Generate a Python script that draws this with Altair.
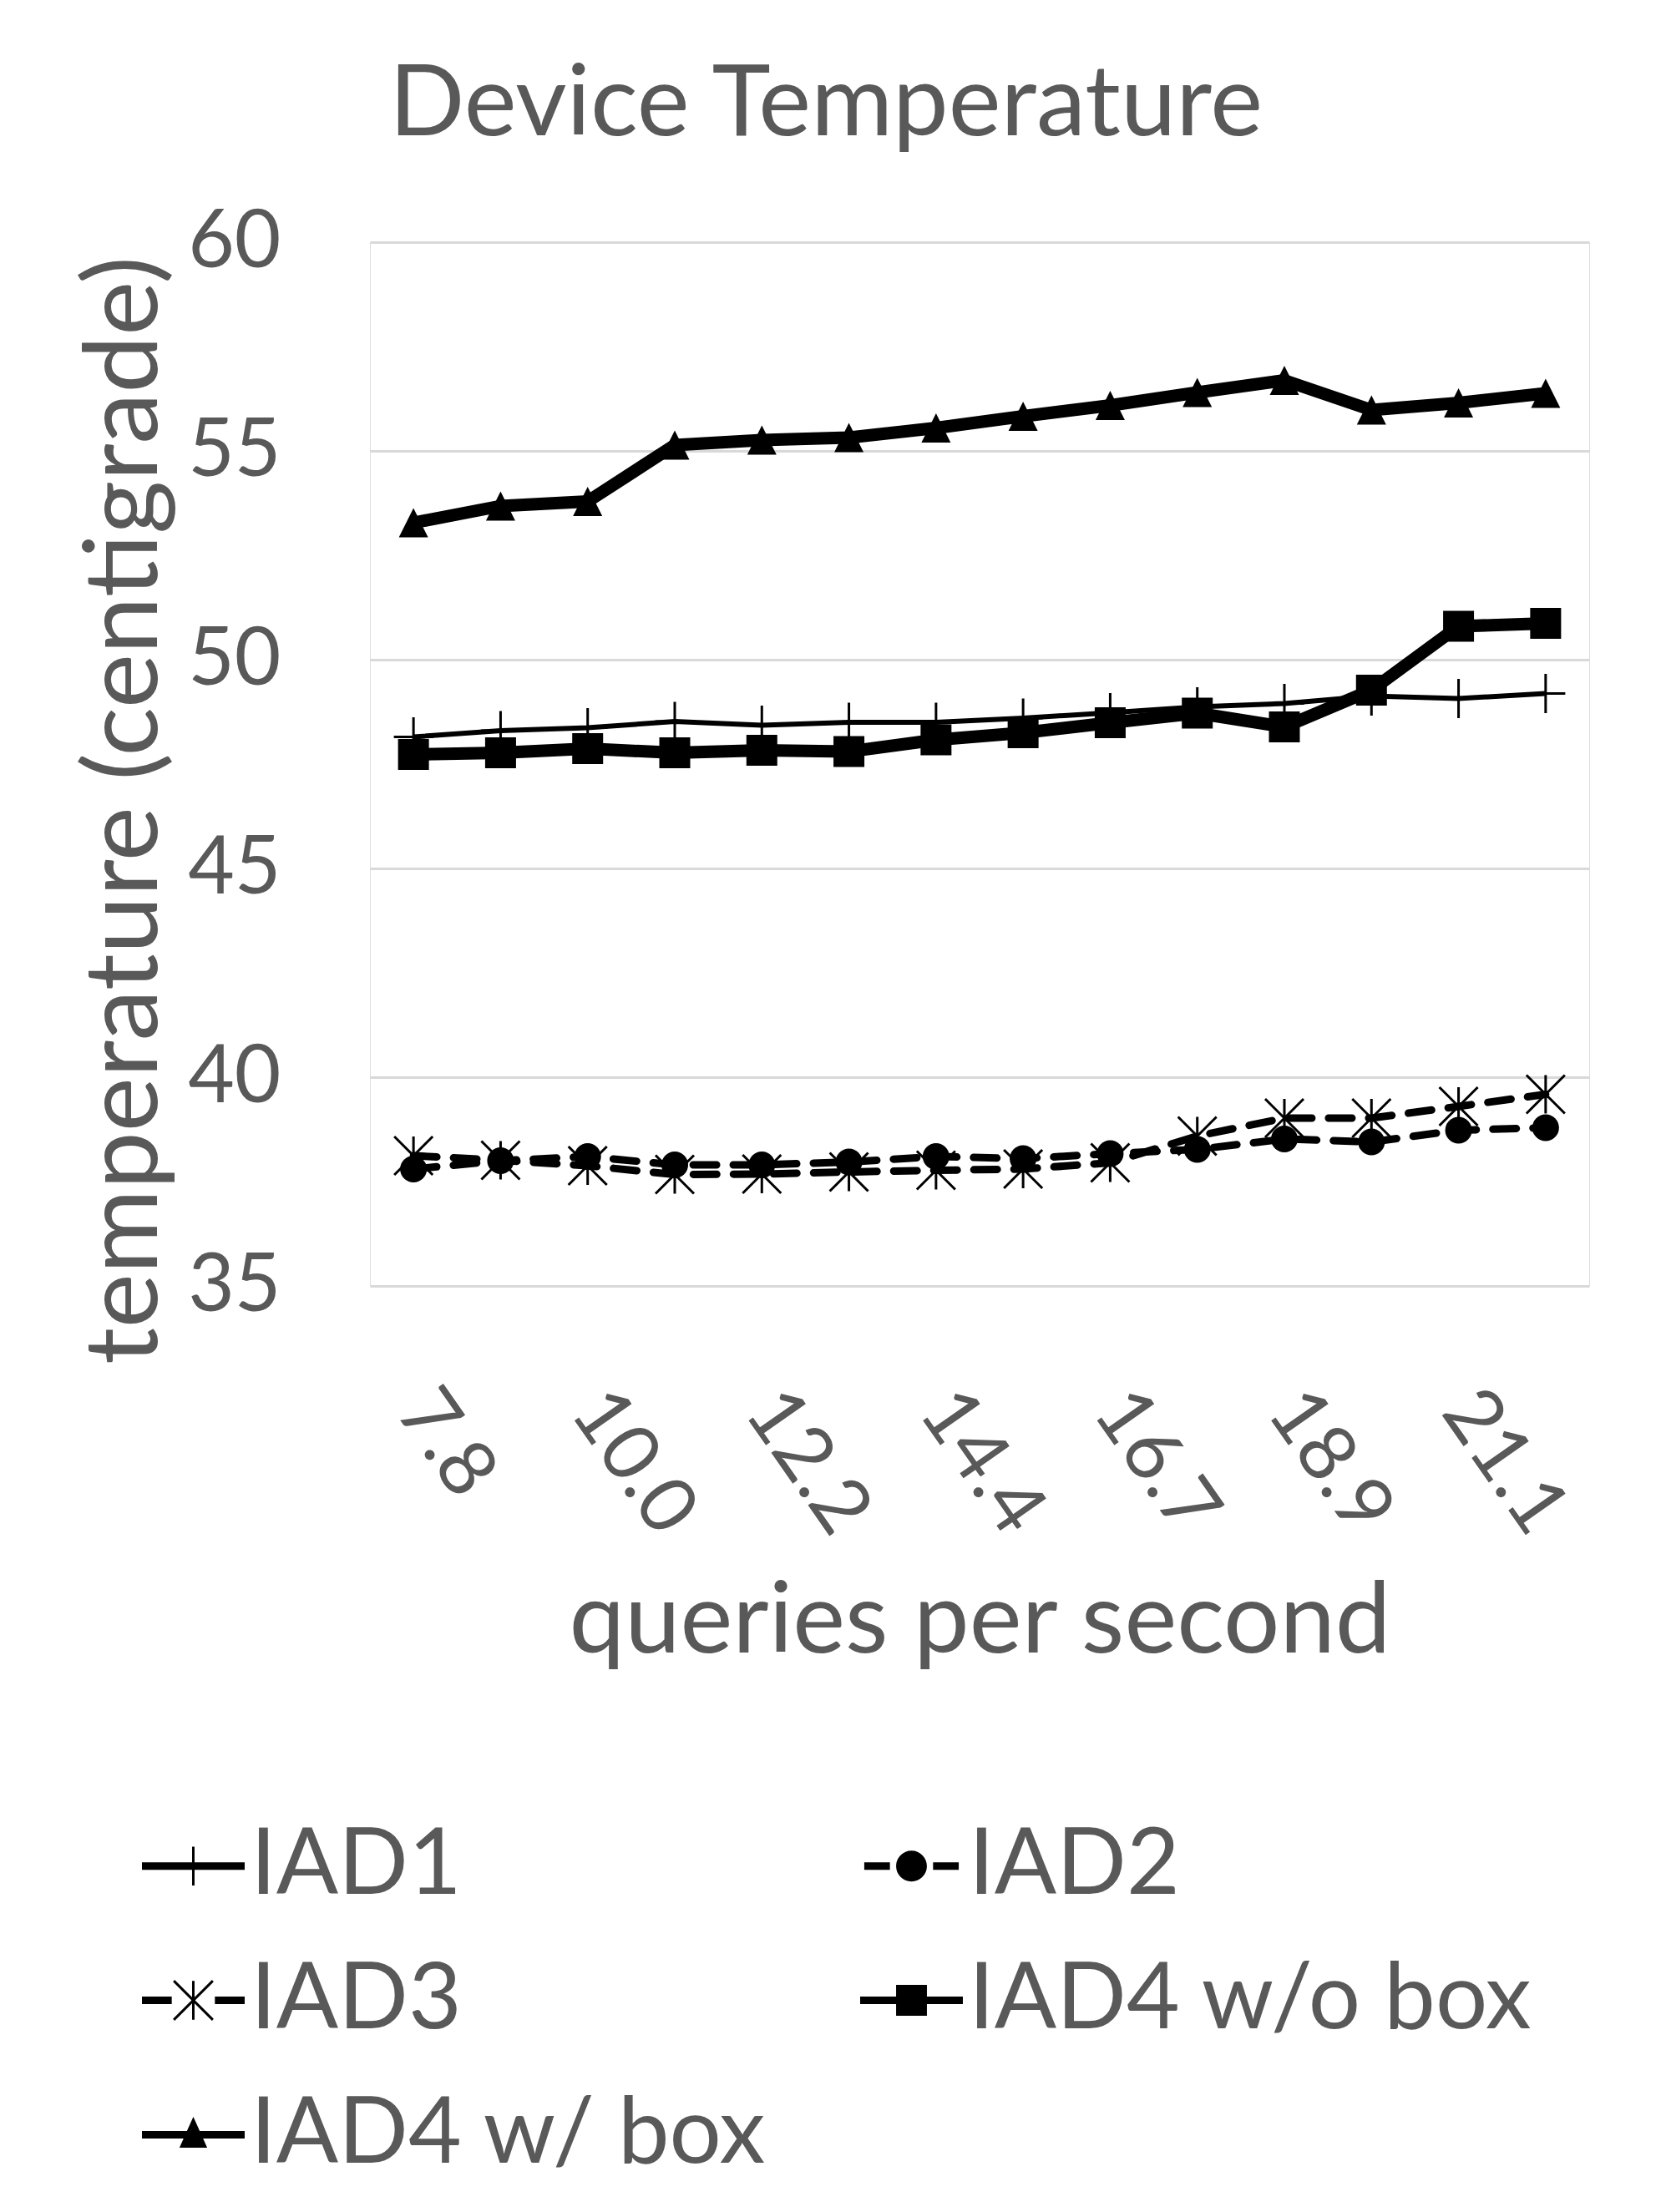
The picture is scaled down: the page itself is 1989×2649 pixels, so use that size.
import altair as alt
import pandas as pd
import math

# ---------------- data ----------------
qps = ["7.8", "8.9", "10.0", "11.1", "12.2", "13.3", "14.4",
       "15.6", "16.7", "17.8", "18.9", "20.0", "21.1", "22.2"]
labeled_qps = ["7.8", "10.0", "12.2", "14.4", "16.7", "18.9", "21.1"]
series = ["IAD1", "IAD2", "IAD3", "IAD4 w/o box", "IAD4 w/ box"]

iad1 = [48.15, 48.30, 48.37, 48.52, 48.43, 48.50, 48.50,
        48.60, 48.73, 48.87, 48.95, 49.13, 49.07, 49.19]
iad2 = [37.80, 38.00, 38.10, 37.90, 37.90, 37.97, 38.10,
        38.05, 38.17, 38.27, 38.52, 38.45, 38.73, 38.79]
iad3 = [38.12, 38.01, 37.88, 37.67, 37.68, 37.73, 37.77,
        37.80, 37.95, 38.59, 39.02, 39.02, 39.30, 39.59]
iad4_nobox = [47.73, 47.77, 47.87, 47.77, 47.83, 47.80, 48.08,
              48.25, 48.49, 48.72, 48.39, 49.27, 50.80, 50.87]
iad4_box = [53.28, 53.68, 53.79, 55.14, 55.26, 55.32, 55.55,
            55.83, 56.09, 56.40, 56.69, 55.98, 56.15, 56.38]

y_ticks = [35, 40, 45, 50, 55, 60]

rows = []
for s, vals in zip(series, [iad1, iad2, iad3, iad4_nobox, iad4_box]):
    for q, v in zip(qps, vals):
        rows.append({"qps": q, "series": s, "temp": v})
df = pd.DataFrame(rows)

# ---------------- styling helpers ----------------
TXT = "#595959"
FONT = "Lato"


def rect(x0, y0, x1, y1):
    return f"M{x0:.3f},{y0:.3f}L{x1:.3f},{y0:.3f}L{x1:.3f},{y1:.3f}L{x0:.3f},{y1:.3f}Z"


def seg(x0, y0, x1, y1, w):
    dx, dy = x1 - x0, y1 - y0
    L = math.hypot(dx, dy)
    nx, ny = -dy / L * w, dx / L * w
    pts = [(x0 + nx, y0 + ny), (x1 + nx, y1 + ny), (x1 - nx, y1 - ny), (x0 - nx, y0 - ny)]
    area = sum(pts[i][0] * pts[(i + 1) % 4][1] - pts[(i + 1) % 4][0] * pts[i][1] for i in range(4))
    if area < 0:
        pts = pts[::-1]
    return "M" + "L".join(f"{px:.3f},{py:.3f}" for px, py in pts) + "Z"


def circ(r):
    return f"M{-r},0A{r},{r},0,1,1,{r},0A{r},{r},0,1,1,{-r},0Z"


h = 0.073   # legend line half thickness (unit coords)
w = 0.024   # thin marker stroke half width
legend_paths = [
    rect(-1, -h, 1, h) + rect(-w, -0.38, w, 0.38),
    rect(-0.92, -h, -0.42, h) + circ(0.30) + rect(0.42, -h, 0.92, h),
    rect(-1, -h, -0.42, h) + seg(0, -0.38, 0, 0.38, w) + seg(-0.38, -0.38, 0.38, 0.38, w)
    + seg(-0.38, 0.38, 0.38, -0.38, w) + rect(0.42, -h, 1, h),
    rect(-1, -h, 1, h) + rect(-0.3, -0.3, 0.3, 0.3),
    rect(-1, -h, 1, h) + "M0,-0.35L0.27,0.25L-0.27,0.25Z",
]

PLUS = "M-1,0L1,0M0,-1L0,1"
ASTER = "M0,-1L0,1M-1,-1L1,1M-1,1L1,-1"

line_styles = {
    "IAD1": dict(strokeWidth=6),
    "IAD2": dict(strokeWidth=9, strokeDash=[28, 20], strokeCap="round"),
    "IAD3": dict(strokeWidth=9, strokeDash=[28, 20], strokeCap="round"),
    "IAD4 w/o box": dict(strokeWidth=15, strokeJoin="round"),
    "IAD4 w/ box": dict(strokeWidth=15, strokeJoin="round"),
}
point_styles = {
    "IAD1": dict(shape=PLUS, filled=False, size=2209, strokeWidth=3),
    "IAD2": dict(shape="circle", filled=True, size=1024),
    "IAD3": dict(shape=ASTER, filled=False, size=2116, strokeWidth=3),
    "IAD4 w/o box": dict(shape="square", filled=True, size=1369),
    "IAD4 w/ box": dict(shape="M0,-1L1,1L-1,1Z", filled=True, size=1225),
}

# ---------------- encodings ----------------
x_enc = alt.X(
    "qps:O", sort=qps,
    scale=alt.Scale(type="point", padding=0.5),
    axis=alt.Axis(
        values=labeled_qps, labelAngle=55, labelAlign="left", labelBaseline="middle",
        labelPadding=135, labelFont=FONT, labelFontSize=94, labelColor=TXT,
        labelOverlap=False, labelBound=False, labelLimit=1000,
        ticks=False, domain=False, grid=False,
        title="queries per second", titleFont=FONT, titleFontSize=119,
        titleFontWeight="normal", titleColor=TXT, titleAlign="center",
        titleBaseline="alphabetic", titleX=730, titleY=438,
    ),
)
y_enc = alt.Y(
    "temp:Q",
    scale=alt.Scale(domain=[35, 60], nice=False, zero=False),
    axis=alt.Axis(
        values=y_ticks, grid=True, gridColor="#d9d9d9", gridWidth=3,
        domain=False, ticks=False, labelFont=FONT, labelFontSize=96,
        labelColor=TXT, labelPadding=107, labelFlush=False,
        title="temperature (centigrade)", titleFont=FONT, titleFontSize=123,
        titleFontWeight="normal", titleColor=TXT, titleAngle=-90,
        titleAlign="center", titleBaseline="middle", titleX=-293, titleY=680,
    ),
)

base = alt.Chart(df).encode(x=x_enc, y=y_enc)

layers = []
for s in series:
    sub = base.transform_filter(alt.datum.series == s)
    layers.append(sub.mark_line(color="black", **line_styles[s]))
    layers.append(sub.mark_point(color="black", opacity=1, **point_styles[s]))

legend_layer = base.transform_filter("false").mark_point(
    filled=True, color="black", opacity=1
).encode(
    shape=alt.Shape(
        "series:N",
        scale=alt.Scale(domain=series, range=legend_paths),
        legend=alt.Legend(
            title=None, orient="none", legendX=-273, legendY=1883, columns=2,
            direction="horizontal",
            labelFont=FONT, labelFontSize=110, labelColor=TXT, labelLimit=3000,
            symbolSize=15129, symbolStrokeWidth=0, symbolFillColor="black",
            labelOffset=7, rowPadding=44, columnPadding=111, padding=0,
            symbolOffset=0,
        ),
    )
)
layers.append(legend_layer)

chart = alt.layer(*layers).properties(
    width=1460, height=1250,
    padding={"left": 435, "top": 282, "right": 78, "bottom": 1101},
    autosize=alt.AutoSizeParams(type="none"),
    title=alt.TitleParams(
        "Device Temperature", font=FONT, fontSize=119, fontWeight="normal",
        color=TXT, anchor="middle", frame="group", dx=-184, dy=169, offset=130,
        baseline="alphabetic",
    ),
).configure_view(stroke=None).configure(background="white")

chart.save("out.html", embed_options={"renderer": "svg", "actions": False})
